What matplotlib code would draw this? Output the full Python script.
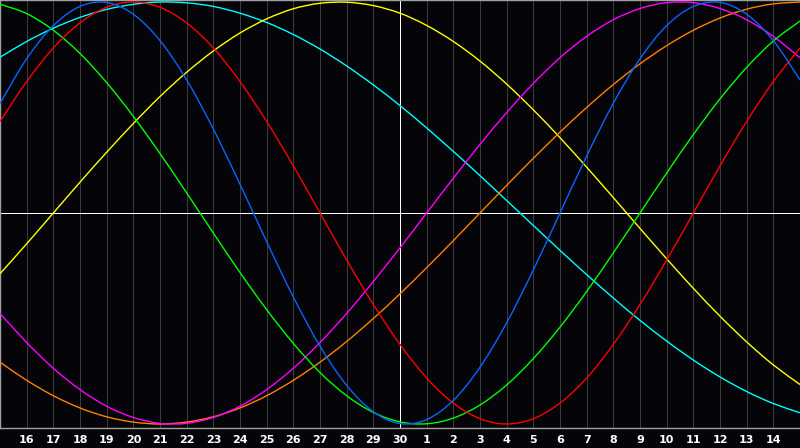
import numpy as np
import matplotlib
matplotlib.use('Agg')
import matplotlib.pyplot as plt
from matplotlib.path import Path
from matplotlib.patches import PathPatch

# dias do eixo X (15 de um mes ate 15 do seguinte, hoje = 30)
dias = [15, 16, 17, 18, 19, 20, 21, 22, 23, 24, 25, 26, 27, 28, 29, 30,
        1, 2, 3, 4, 5, 6, 7, 8, 9, 10, 11, 12, 13, 14, 15]
hoje = 15  # indice do dia 30

# valores diarios de cada ciclo (em %)
fisico_23 = [52.0, 73.1, 88.8, 97.9, 99.8, 94.2, 81.7, 63.1, 39.8, 13.6, -13.6,
             -39.8, -63.1, -81.7, -94.2, -99.8, -97.9, -88.8, -73.1, -52.0, -27.0,
             0, 27.0, 52.0, 73.1, 88.8, 97.9, 99.8, 94.2, 81.7, 63.1]
emocional_28 = [43.4, 62.3, 78.2, 90.1, 97.5, 100, 97.5, 90.1, 78.2, 62.3, 43.4,
                22.3, 0, -22.3, -43.4, -62.3, -78.2, -90.1, -97.5, -100, -97.5,
                -90.1, -78.2, -62.3, -43.4, -22.3, 0, 22.3, 43.4, 62.3, 78.2]
intelectual_33 = [99.0, 94.5, 86.6, 75.6, 61.8, 45.8, 28.2, 9.5, -9.5, -28.2, -45.8,
                  -61.8, -75.6, -86.6, -94.5, -99.0, -99.9, -97.2, -91.0, -81.5, -69.0,
                  -54.1, -37.2, -18.9, 0, 18.9, 37.2, 54.1, 69.0, 81.5, 91.0]
intuitivo_38 = [-47.6, -61.4, -73.6, -83.7, -91.6, -96.9, -99.7, -99.7, -96.9, -91.6, -83.7,
                -73.6, -61.4, -47.6, -32.5, -16.5, 0, 16.5, 32.5, 47.6, 61.4,
                73.6, 83.7, 91.6, 96.9, 99.7, 99.7, 96.9, 91.6, 83.7, 73.6]
estetico_43 = [-28.8, -14.6, 0, 14.6, 28.8, 42.4, 55.2, 66.7, 76.8, 85.3, 92.0,
               96.8, 99.4, 99.9, 98.3, 94.7, 88.9, 81.3, 72.0, 61.1, 48.9,
               35.7, 21.7, 7.3, -7.3, -21.7, -35.7, -48.9, -61.1, -72.0, -81.3]
consciencia_48 = [-70.7, -79.3, -86.6, -92.4, -96.6, -99.1, -100, -99.1, -96.6, -92.4, -86.6,
                  -79.3, -70.7, -60.9, -50.0, -38.3, -25.9, -13.1, 0, 13.1, 25.9,
                  38.3, 50.0, 60.9, 70.7, 79.3, 86.6, 92.4, 96.6, 99.1, 100]
espiritual_53 = [73.8, 81.3, 87.6, 92.7, 96.5, 98.9, 100.0, 99.6, 97.9, 94.7, 90.3,
                 84.6, 77.7, 69.7, 60.7, 50.9, 40.3, 29.2, 17.7, 5.9, -5.9,
                 -17.7, -29.2, -40.3, -50.9, -60.7, -69.7, -77.7, -84.6, -90.3, -94.7]

ciclos = [espiritual_53, estetico_43, consciencia_48, intuitivo_38,
          intelectual_33, emocional_28, fisico_23]
cores = ['#00ffff', '#ffff00', '#ff8000', '#ff00ff', '#00ff00', '#ff0000', '#0a64ff']

PX = 0.72  # 1 pixel em pontos (dpi 100)


def curva_suave(xs, ys):
    '''linha suave (estilo spline) passando pelos pontos diarios'''
    pts = np.column_stack([xs, ys]).astype(float)
    # nas pontas estende pela mesma inclinacao
    ext = np.vstack([2 * pts[0] - pts[1], pts, 2 * pts[-1] - pts[-2]])
    verts = [pts[0]]
    codes = [Path.MOVETO]
    for i in range(len(pts) - 1):
        p0, p1, p2, p3 = ext[i], ext[i + 1], ext[i + 2], ext[i + 3]
        verts += [p1 + (p2 - p0) / 6, p2 - (p3 - p1) / 6, p2]
        codes += [Path.CURVE4] * 3
    return Path(verts, codes)


fig = plt.figure(figsize=(8, 4.48), dpi=100)
fig.patch.set_facecolor('#050408')
ax = fig.add_axes([0, 20 / 448, 1, 428 / 448])
ax.set_facecolor('#050408')

x = np.arange(len(dias))
# linhas verticais de cada dia
for i in range(1, len(dias) - 1):
    ax.axvline(i, color='#3c3c3c', lw=PX, zorder=1, antialiased=False)
ax.axvline(hoje, color='white', lw=PX, zorder=2, antialiased=False)
ax.axhline(0, color='white', lw=PX, zorder=2, antialiased=False)

for valores, cor in zip(ciclos, cores):
    ax.add_patch(PathPatch(curva_suave(x, valores), facecolor='none',
                           edgecolor=cor, lw=1.0, zorder=3))

ax.set_xlim(0, len(dias) - 1)
ax.set_ylim(-101.9, 100.95)
ax.set_yticks([])
ax.set_xticks(x[1:-1])
ax.set_xticklabels([str(d) for d in dias[1:-1]], color='white',
                   fontsize=8, fontweight='bold')
ax.tick_params(axis='x', length=0, pad=5)
for lado in ['left', 'top', 'bottom']:
    ax.spines[lado].set_color('#a0a0a0')
    ax.spines[lado].set_linewidth(1)
ax.spines['right'].set_visible(False)

fig.savefig('out.png', dpi=100, facecolor=fig.get_facecolor())
